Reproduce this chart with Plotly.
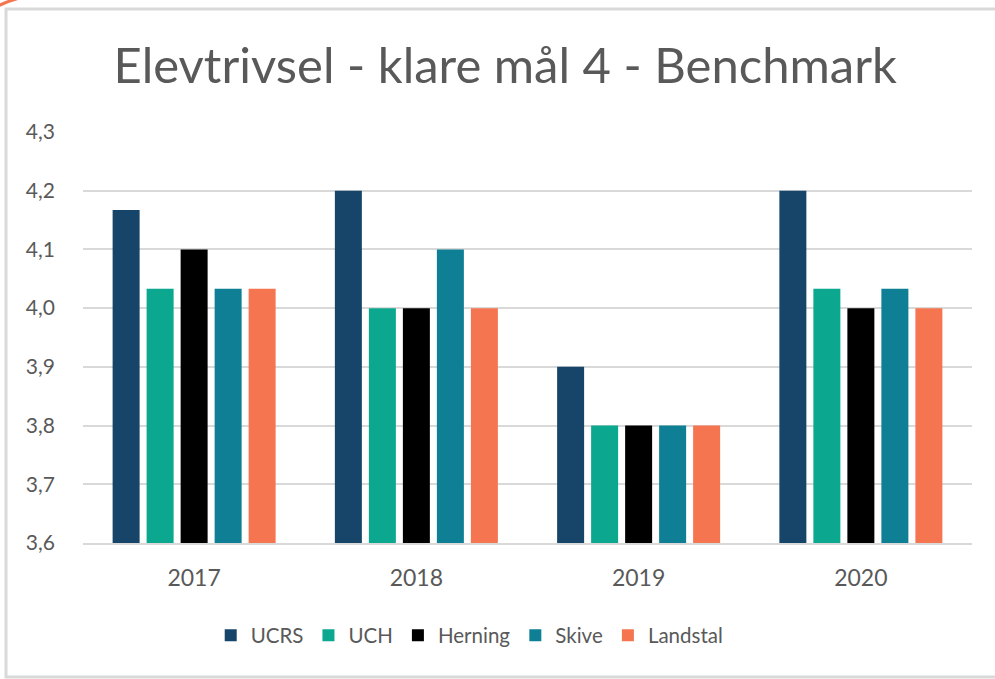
import plotly.graph_objects as go

years = ["2017", "2018", "2019", "2020"]
series_names = ["UCRS", "UCH", "Herning", "Skive", "Landstal"]
ucrs = [4.167, 4.2, 3.9, 4.2]
uch = [4.033, 4.0, 3.8, 4.033]
herning = [4.1, 4.0, 3.8, 4.0]
skive = [4.033, 4.1, 3.8, 4.033]
landstal = [4.033, 4.0, 3.8, 4.0]
values = [ucrs, uch, herning, skive, landstal]
colors = ["#17456A", "#0BA88F", "#000000", "#0E7F94", "#F4754F"]

fig = go.Figure()
for name, vals, col in zip(series_names, values, colors):
    fig.add_trace(go.Bar(
        x=years, y=vals, name=name,
        marker=dict(color=col, line=dict(width=0)),
    ))

font_family = "Lato, 'Open Sans', sans-serif"
grey = "#595959"

fig.update_layout(
    width=995, height=679,
    margin=dict(l=83, r=23, t=132, b=136, autoexpand=False),
    paper_bgcolor="white", plot_bgcolor="white",
    separators=",.",
    barmode="group", bargap=0.235, bargroupgap=0.206,
    title=dict(text="Elevtrivsel - klare mål 4 - Benchmark",
               font=dict(family=font_family, size=49, color=grey),
               x=0.475, xref="paper", xanchor="center",
               y=0.903, yanchor="middle"),
    font=dict(family=font_family, color=grey),
    xaxis=dict(showgrid=False, showline=True, linecolor="#D9D9D9", linewidth=2,
               ticks="", ticklabelstandoff=13,
               tickfont=dict(size=23, color=grey)),
    yaxis=dict(range=[3.6, 4.3], dtick=0.1, tick0=3.6, tickformat=".1f",
               showgrid=True, gridcolor="#D9D9D9", gridwidth=2,
               zeroline=False, showline=False, ticks="",
               ticklabelstandoff=27,
               tickfont=dict(size=21, color=grey)),
    legend=dict(orientation="h", x=0.435, xanchor="center", y=-0.225, yanchor="middle",
                font=dict(size=20.5, color=grey), traceorder="normal",
                itemwidth=30),
    showlegend=True,
)

# outer chart border
fig.add_shape(type="rect", xref="paper", yref="paper",
              x0=(6 - 83) / 889, x1=(1005 - 83) / 889,
              y0=(543 - 677) / 411, y1=(543 - 9) / 411,
              line=dict(color="#D9D9D9", width=3), fillcolor="rgba(0,0,0,0)", layer="below")
# small orange arc at top-left corner
fig.add_shape(type="path", xref="paper", yref="paper",
              path="M %f,%f Q %f,%f %f,%f" % ((-2 - 83) / 889, (543 - 6) / 411,
                                              (10 - 83) / 889, (543 - 0) / 411,
                                              (24 - 83) / 889, (543 + 3) / 411),
              line=dict(color="#F4754F", width=3))

fig.write_html("out.html", config={"displayModeBar": False},
               post_script="document.body.style.margin='0';document.body.style.overflow='hidden';")
